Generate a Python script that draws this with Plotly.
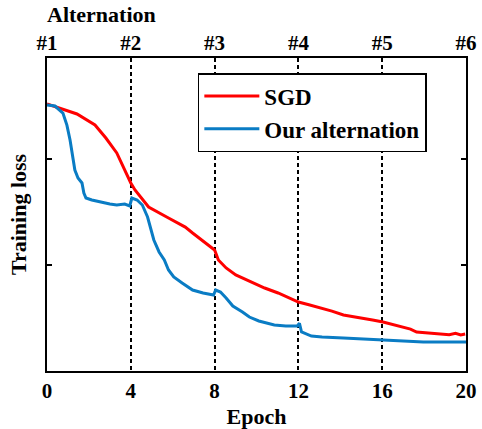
import plotly.graph_objects as go

# ---- data ----
sgd_epoch = [0, 1.43, 2.29, 2.81, 3.33, 3.71, 4.0, 4.2, 4.85, 5.8, 6.6, 6.95, 7.6, 8.0,
             8.18, 8.55, 9.01, 9.33, 9.79, 10.39, 11.03, 12.0, 12.5, 13.13, 13.6, 14.15,
             14.6, 15.1, 15.54, 16.04, 16.5, 17.07, 17.35, 17.64, 18.0, 18.4, 18.84,
             19.2, 19.5, 19.75, 19.96]
sgd_loss = [2.519, 2.425, 2.321, 2.198, 2.057, 1.896, 1.774, 1.708, 1.547, 1.443, 1.358,
            1.302, 1.208, 1.142, 1.047, 0.972, 0.906, 0.877, 0.830, 0.783, 0.736, 0.651,
            0.625, 0.594, 0.565, 0.528, 0.515, 0.495, 0.481, 0.462, 0.440, 0.406, 0.395,
            0.368, 0.362, 0.350, 0.349, 0.342, 0.356, 0.340, 0.349]

alt_epoch = [0, 0.38, 0.76, 0.95, 1.1, 1.24, 1.33, 1.48, 1.67, 1.76, 1.86, 2.14, 2.52,
             3.0, 3.33, 3.71, 3.95, 4.05, 4.3, 4.55, 4.8, 4.95, 5.1, 5.35, 5.6, 5.8,
             6.05, 6.45, 6.95, 7.45, 7.95, 8.05, 8.28, 8.55, 8.87, 9.33, 9.66, 10.11,
             10.85, 11.4, 11.95, 12.05, 12.15, 12.62, 13.13, 14.15, 16.0, 17.96, 20.0]
alt_loss = [2.509, 2.5, 2.434, 2.32, 2.179, 2.019, 1.896, 1.821, 1.774, 1.679, 1.632,
            1.613, 1.594, 1.575, 1.566, 1.575, 1.557, 1.632, 1.613, 1.566, 1.453, 1.349,
            1.236, 1.123, 1.047, 0.953, 0.887, 0.830, 0.764, 0.736, 0.717, 0.764, 0.745,
            0.689, 0.613, 0.557, 0.509, 0.472, 0.434, 0.425, 0.425, 0.45, 0.368, 0.330,
            0.321, 0.311, 0.292, 0.274, 0.274]

epoch_ticks = [0, 4, 8, 12, 16, 20]
alternation_labels = ["#1", "#2", "#3", "#4", "#5", "#6"]
loss_ticks = [1, 2]

FONT = "Liberation Serif"


def f(size):
    return dict(family=FONT, size=size, color="black", weight="bold")


fig = go.Figure()
fig.add_trace(go.Scatter(x=sgd_epoch, y=sgd_loss, mode="lines", name="SGD",
                         line=dict(color="#ff0000", width=3)))
fig.add_trace(go.Scatter(x=alt_epoch, y=alt_loss, mode="lines", name="Our alternation",
                         line=dict(color="#0a7cc4", width=3)))
# invisible trace so the top (alternation) axis renders
fig.add_trace(go.Scatter(x=[0, 20], y=[None, None], xaxis="x2", showlegend=False,
                         hoverinfo="skip"))

fig.update_layout(
    width=482, height=429,
    margin=dict(l=47, r=16, t=58, b=58, autoexpand=False),
    paper_bgcolor="white", plot_bgcolor="white",
    font=f(21),
    xaxis=dict(range=[0, 20], tickvals=epoch_ticks, ticktext=[str(v) for v in epoch_ticks],
               showline=True, linecolor="black", linewidth=2, mirror=True,
               ticks="", showgrid=True, gridcolor="black", griddash="4px,3px", gridwidth=1.5,
               zeroline=False, tickfont=f(21), automargin=False,
               title=dict(text="Epoch", font=f(22), standoff=6)),
    xaxis2=dict(range=[0, 20], overlaying="x", side="top", tickvals=epoch_ticks,
                ticktext=alternation_labels, showgrid=False, showline=False, ticks="",
                zeroline=False, tickfont=f(21), automargin=False, ticklabelstandoff=3),
    yaxis=dict(range=[0, 2.953], tickvals=loss_ticks, showticklabels=False,
               ticks="inside", ticklen=5, tickwidth=1.5, tickcolor="black",
               showline=True, linecolor="black", linewidth=2, mirror="ticks",
               showgrid=False, zeroline=False, automargin=False,
               title=dict(text="Training loss", font=f(22), standoff=12)),
    legend=dict(x=0.36, y=0.952, xanchor="left", yanchor="top",
                bordercolor="black", borderwidth=1.5, bgcolor="white",
                font=f(23), tracegroupgap=0, itemwidth=55),
    showlegend=True,
    annotations=[dict(text="Alternation", x=-0.005, y=1.138, xref="paper", yref="paper",
                      xanchor="left", yanchor="middle", showarrow=False,
                      font=f(22))],
)

fig.write_html("out.html", config={"displayModeBar": False},
               post_script="document.body.style.margin='0';")
